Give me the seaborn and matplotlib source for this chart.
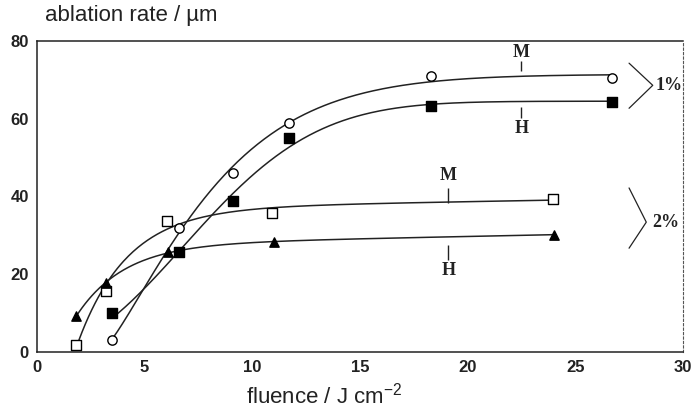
import numpy as np
import pandas as pd
import matplotlib
matplotlib.use("Agg")
import matplotlib.pyplot as plt
import seaborn as sns

# ---- data ----
fluence_m1 = [3.5, 6.6, 9.1, 11.7, 18.3, 26.7]
rate_m1 = [3.0, 32.0, 46.0, 59.0, 71.0, 70.5]
fluence_h1 = [3.5, 6.6, 9.1, 11.7, 18.3, 26.7]
rate_h1 = [10.0, 25.7, 38.8, 55.0, 63.2, 64.3]
fluence_m2 = [1.8, 3.2, 6.05, 10.9, 23.95]
rate_m2 = [1.8, 15.8, 33.7, 35.8, 39.3]
fluence_h2 = [1.8, 3.2, 6.1, 11.0, 24.0]
rate_h2 = [9.2, 17.7, 25.7, 28.3, 30.2]

x_ticks = [0, 5, 10, 15, 20, 25, 30]
y_ticks = [0, 20, 40, 60, 80]


def fit_curve(x, y, linear=True, n=300):
    """Least-squares fit of a saturating (Weibull-type) curve, optional linear tail."""
    x = np.asarray(x, float)
    y = np.asarray(y, float)
    best = None
    powers = [1.0] if linear else np.linspace(1.0, 2.2, 13)
    for p in powers:
        for x0 in np.linspace(x.min() - 4, x.min() - 0.05, 40):
            for t in np.linspace(0.5, 15, 146):
                e = 1 - np.exp(-((x - x0) / t) ** p)
                if linear:
                    A = np.column_stack([e, x - x0])
                    coef, *_ = np.linalg.lstsq(A, y, rcond=None)
                    if coef[1] < 0:
                        continue
                else:
                    c = np.dot(e, y) / np.dot(e, e)
                    coef = np.array([c, 0.0])
                    A = np.column_stack([e, x - x0])
                r = np.sum((A @ coef - y) ** 2)
                if best is None or r < best[0]:
                    best = (r, x0, t, p, coef)
    _, x0, t, p, coef = best
    xs = np.linspace(x.min(), x.max(), n)
    ys = coef[0] * (1 - np.exp(-((xs - x0) / t) ** p)) + coef[1] * (xs - x0)
    return xs, ys


sns.set_style("white")
plt.rcParams["font.family"] = ["Liberation Sans", "DejaVu Sans"]

fig = plt.figure(figsize=(6.93, 4.11), dpi=100)
ax = fig.add_axes([0.0534, 0.1436, 0.932, 0.7566])

series = [
    (fluence_m1, rate_m1, "o", "white", False),
    (fluence_h1, rate_h1, "s", "black", False),
    (fluence_m2, rate_m2, "s", "white", True),
    (fluence_h2, rate_h2, "^", "black", True),
]

for fx, ry, mk, fc, lin in series:
    xs, ys = fit_curve(fx, ry, linear=lin)
    sns.lineplot(x=xs, y=ys, ax=ax, color="#222222", lw=1.1, zorder=2)
    sns.scatterplot(x=fx, y=ry, ax=ax, marker=mk, s=45, color=fc,
                    edgecolor="black", linewidth=1.0, zorder=3)

ax.set_xlim(0, 30)
ax.set_ylim(0, 80)
ax.set_xticks(x_ticks)
ax.set_yticks(y_ticks)
ax.tick_params(direction="in", length=3, width=1, colors="black",
               labelsize=12, pad=6)
for lab in ax.get_xticklabels() + ax.get_yticklabels():
    lab.set_fontweight("bold")
    lab.set_color("#222222")

for s in ["left", "bottom", "top"]:
    ax.spines[s].set_color("#222222")
    ax.spines[s].set_linewidth(1.1)
ax.spines["right"].set_color("#555555")
ax.spines["right"].set_linewidth(0.8)
ax.spines["right"].set_linestyle((0, (2, 2)))

# annotations: M / H labels with small leader ticks
serif = dict(family=["Liberation Serif", "DejaVu Serif"], fontsize=13,
             fontweight="bold", color="#222222", ha="center", va="center")
ax.text(22.5, 77, "M", **serif)
ax.vlines(22.5, 72.2, 74.8, color="#222222", lw=1)
ax.text(22.5, 57.5, "H", **serif)
ax.vlines(22.5, 60.2, 63.0, color="#222222", lw=1)
ax.text(19.1, 45.5, "M", **serif)
ax.vlines(19.1, 38.4, 42.2, color="#222222", lw=1)
ax.text(19.1, 21.0, "H", **serif)
ax.vlines(19.1, 23.6, 27.5, color="#222222", lw=1)

# brackets
ax.plot([27.5, 28.6, 27.5], [74.3, 68.6, 62.7], color="#222222", lw=0.9)
ax.plot([27.5, 28.3, 27.5], [42.2, 33.4, 26.7], color="#222222", lw=0.9)
ax.text(29.35, 68.6, "1%", **serif)
ax.text(29.2, 33.4, "2%", **serif)

fig.text(0.065, 0.963, "ablation rate / \u00b5m", fontsize=16,
         ha="left", va="center", color="#222222")
fig.text(0.468, 0.037, "fluence / J cm$^{\\mathregular{-2}}$", fontsize=16,
         ha="center", va="center", color="#222222")

fig.savefig("out.png", dpi=100)
